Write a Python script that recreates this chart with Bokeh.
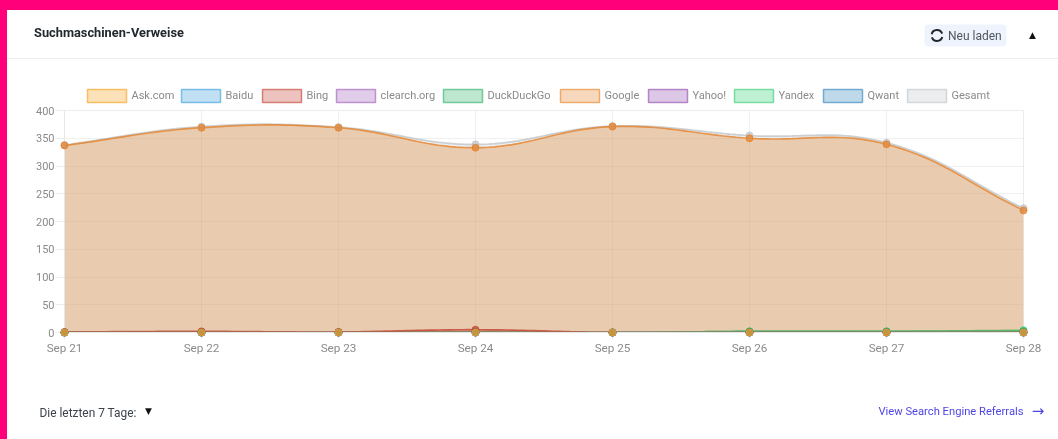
from bokeh.plotting import figure
from bokeh.models import ColumnDataSource, FixedTicker
from bokeh.core.properties import value
from bokeh.embed import file_html
from bokeh.resources import INLINE

dates = ["Sep 21", "Sep 22", "Sep 23", "Sep 24", "Sep 25", "Sep 26", "Sep 27", "Sep 28"]
y_ticks = [0, 50, 100, 150, 200, 250, 300, 350, 400]

ask = [0, 0, 0, 0, 0, 0, 0, 0]
baidu = [0, 0, 0, 0, 0, 0, 0, 0]
bing = [1, 2, 1, 5, 0, 0, 0, 0]
clearch = [0, 0, 0, 0, 0, 0, 0, 0]
duckduckgo = [0, 0, 0, 1, 0, 2, 2, 2]
google = [337, 369, 369, 333, 371, 350, 339, 220]
yahoo = [0, 0, 0, 0, 0, 0, 0, 0]
yandex = [0, 0, 0, 0, 0, 2, 2, 4]
qwant = [0, 0, 0, 0, 0, 0, 0, 0]
gesamt = [338, 371, 370, 339, 372, 355, 342, 224]

series = [
    ("Ask.com", ask, "#f39c12"),
    ("Baidu", baidu, "#3498db"),
    ("Bing", bing, "#c0392b"),
    ("clearch.org", clearch, "#9b59b6"),
    ("DuckDuckGo", duckduckgo, "#27ae60"),
    ("Google", google, "#e67e22"),
    ("Yahoo!", yahoo, "#8e44ad"),
    ("Yandex", yandex, "#2ecc71"),
    ("Qwant", qwant, "#2980b9"),
    ("Gesamt", gesamt, "#bdc3c7"),
]

W, H = 1058, 439
L, R, T, B = 64, 1023, 110, 332
SX = (R - L) / 7
SY = (B - T) / 400
TENSION = 0.4
FONT = "Roboto"
LEGEND_X = [87, 181, 262, 336, 443, 560, 648, 734, 823, 907]


def dx(px):
    return (px - L) / SX


def dy(py):
    return (B - py) / SY


def smooth(values, n=24):
    """Chart.js-style spline through the values, computed in pixel space."""
    pts = [(i * SX, v * SY) for i, v in enumerate(values)]
    xs, ys = [pts[0][0] / SX], [pts[0][1] / SY]
    ctrl = []
    for i, pt in enumerate(pts):
        a = pts[max(i - 1, 0)]
        c = pts[min(i + 1, len(pts) - 1)]
        d1 = ((pt[0] - a[0]) ** 2 + (pt[1] - a[1]) ** 2) ** 0.5
        d2 = ((c[0] - pt[0]) ** 2 + (c[1] - pt[1]) ** 2) ** 0.5
        tot = d1 + d2 or 1
        f1, f2 = TENSION * d1 / tot, TENSION * d2 / tot
        ctrl.append(((pt[0] - f1 * (c[0] - a[0]), pt[1] - f1 * (c[1] - a[1])),
                     (pt[0] + f2 * (c[0] - a[0]), pt[1] + f2 * (c[1] - a[1]))))
    for i in range(len(pts) - 1):
        p0, p3 = pts[i], pts[i + 1]
        p1 = (min(ctrl[i][1][0], (R - L)), max(ctrl[i][1][1], 0))
        p2 = (min(ctrl[i + 1][0][0], (R - L)), max(ctrl[i + 1][0][1], 0))
        for k in range(1, n + 1):
            t = k / n
            u = 1 - t
            xs.append((u**3 * p0[0] + 3 * u * u * t * p1[0] + 3 * u * t * t * p2[0] + t**3 * p3[0]) / SX)
            ys.append((u**3 * p0[1] + 3 * u * u * t * p1[1] + 3 * u * t * t * p2[1] + t**3 * p3[1]) / SY)
    return xs, ys


p = figure(width=W, height=H, output_backend="svg", toolbar_location=None,
           x_range=(0, 7), y_range=(0, 400),
           min_border_left=L, min_border_right=W - R,
           min_border_top=T, min_border_bottom=H - B)
p.border_fill_alpha = 0
p.background_fill_alpha = 0
p.outline_line_color = "#ececec"

p.xaxis.ticker = FixedTicker(ticks=list(range(len(dates))))
p.xaxis.major_label_overrides = {i: d for i, d in enumerate(dates)}
p.yaxis.ticker = FixedTicker(ticks=y_ticks)
for ax in (p.xaxis[0], p.yaxis[0]):
    ax.axis_line_color = "#e6e6e6"
    ax.major_tick_line_color = "#ececec"
    ax.major_tick_in = 0
    ax.minor_tick_line_color = None
    ax.major_label_text_font = FONT
    ax.major_label_text_color = "#8a8a8a"
p.xaxis.major_label_text_font_size = "11.7px"
p.yaxis.major_label_text_font_size = "11px"
p.xaxis.major_tick_out = 7
p.yaxis.major_tick_out = 9
p.xaxis.major_label_standoff = 1
p.yaxis.major_label_standoff = 1
p.grid.grid_line_color = "#000000"
p.grid.grid_line_alpha = 0.06

# Chart.js paints the first dataset last, so go through them in reverse.
for name, vals, col in reversed(series):
    xs, ys = smooth(vals)
    src = ColumnDataSource(dict(x=xs, y=ys, y0=[0] * len(xs)))
    p.varea(x="x", y1="y0", y2="y", source=src, fill_color=col, fill_alpha=0.3)
    p.line(x="x", y="y", source=src, line_color=col, line_width=1.7, line_alpha=0.75)
for name, vals, col in reversed(series):
    p.scatter(x=list(range(len(vals))), y=vals, size=7, marker="circle",
              fill_color=col, fill_alpha=0.7, line_color=col, line_alpha=0.7,
              level="overlay")


def label(text, x, y, size, color, bold=False, align="left", font=FONT):
    p.text(x=[dx(x)], y=[dy(y)], text=[text], text_font=value(font), text_font_size=value(size),
           text_color=color, text_font_style="bold" if bold else "normal",
           text_align=align, text_baseline="middle", level="overlay")


for (name, vals, col), lx in zip(series, LEGEND_X):
    p.quad(left=[dx(lx)], right=[dx(lx + 39)], top=[dy(89)], bottom=[dy(102)],
           fill_color=col, fill_alpha=0.3, line_color=col, line_alpha=0.6, line_width=1.5,
           level="overlay")
    label(name, lx + 44, 94.5, "11px", "#8a8a8a")

p.quad(left=[dx(924)], right=[dx(1006)], top=[dy(24)], bottom=[dy(46)],
       fill_color="#eef3fd", line_color=None, border_radius=4, level="overlay")
for a0, a1 in ((0.35, 2.9), (3.5, 6.0)):
    p.arc(x=[dx(936.5)], y=[dy(35)], radius=5.5, radius_units="screen", start_angle=a0, end_angle=a1,
          line_color="#23282d", line_width=2, level="overlay")
label("Suchmaschinen-Verweise", 33.5, 31.5, "12.8px", "#23282d", bold=True)
label("Neu laden", 947.5, 35, "12px", "#50575e")
label("▲", 1032, 34, "9px", "#111111", align="center", font="DejaVu Sans")
label("Die letzten 7 Tage:", 39, 412, "11.9px", "#3c434a")
label("▼", 148, 410.5, "9px", "#111111", align="center", font="DejaVu Sans")
label("View Search Engine Referrals", 878, 411, "11.2px", "#4f46e5")
label("→", 1037.5, 410, "15px", "#4f46e5", align="center", font="DejaVu Sans")

html = file_html(p, INLINE)
style = """<style>
html { height: 100%; overflow: hidden; background:
  linear-gradient(#ff007a, #ff007a) 0 0 / 100% 10px no-repeat,
  linear-gradient(#ff007a, #ff007a) 0 0 / 7px 100% no-repeat,
  linear-gradient(#eeeeee, #eeeeee) 7px 58px / 100% 1px no-repeat,
  #ffffff; }
body { background: transparent; filter: blur(0.45px); }
</style>"""
html = html.replace("</head>", style + "</head>", 1)
open("out.html", "w").write(html)
